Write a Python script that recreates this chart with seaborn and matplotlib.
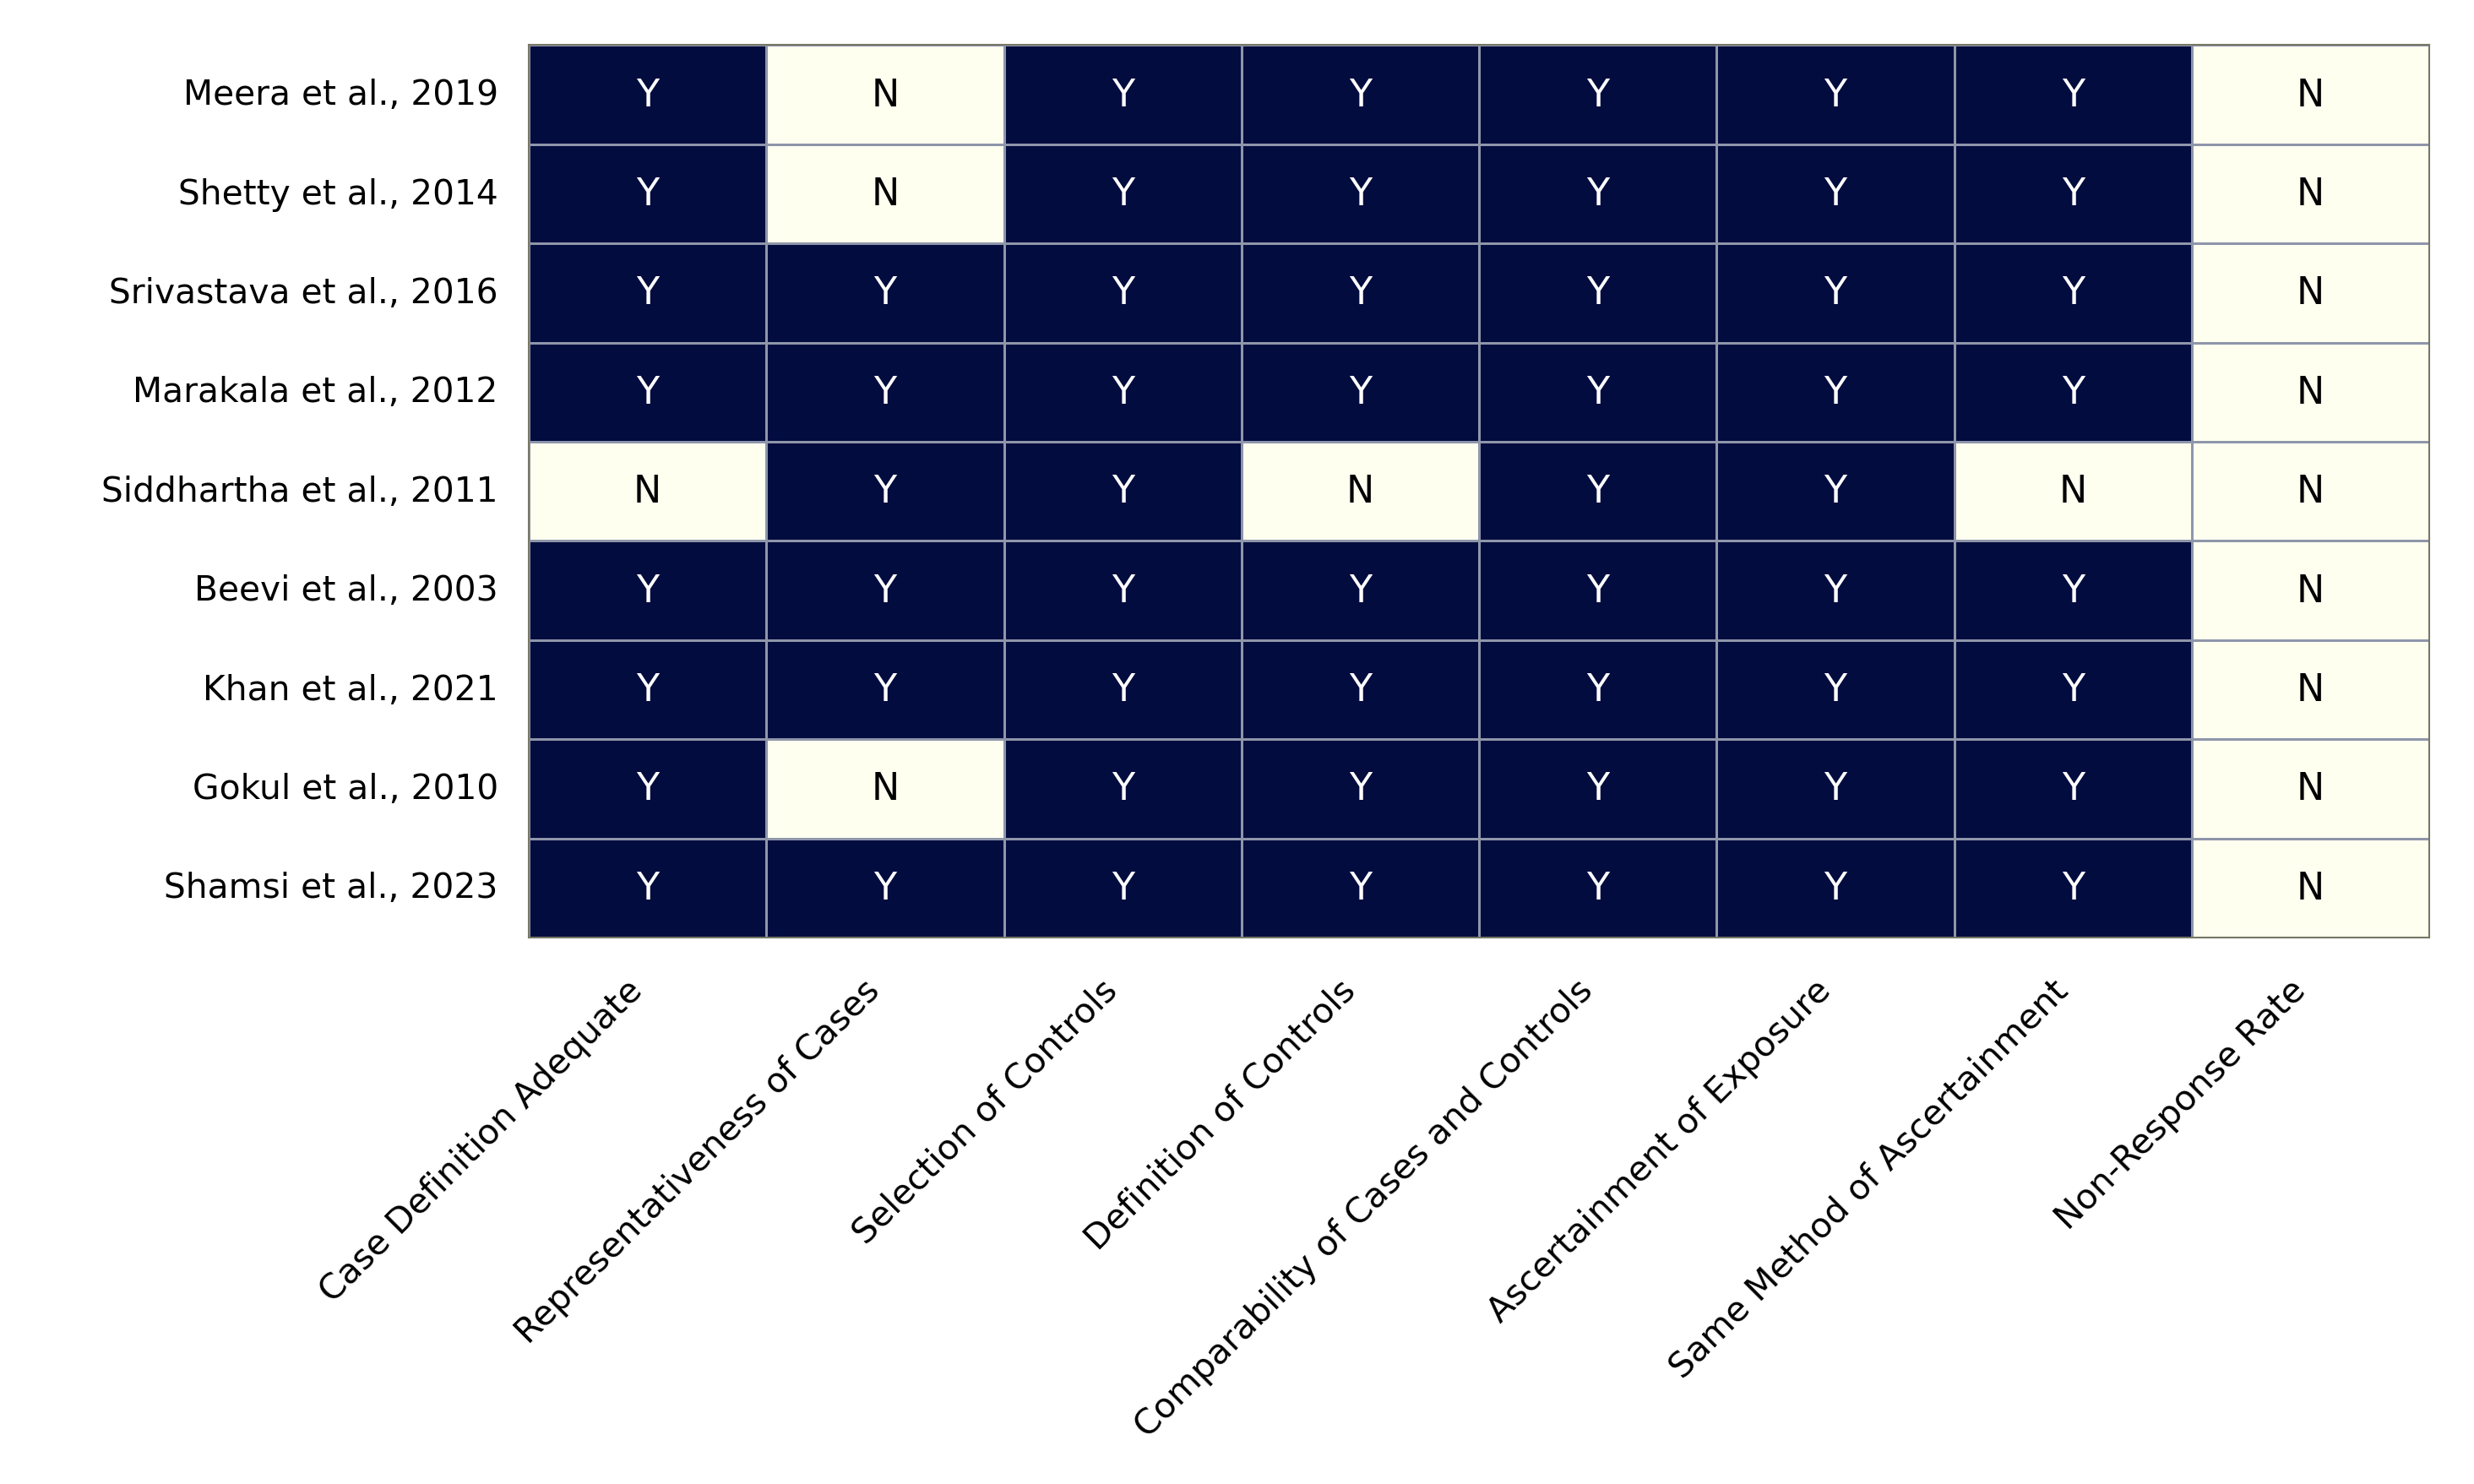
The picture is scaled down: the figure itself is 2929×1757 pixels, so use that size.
import numpy as np
import pandas as pd
import matplotlib
matplotlib.use("Agg")
import matplotlib.pyplot as plt
import matplotlib.transforms as mtransforms
import seaborn as sns
from matplotlib.colors import ListedColormap

studies = ["Meera et al., 2019", "Shetty et al., 2014", "Srivastava et al., 2016",
           "Marakala et al., 2012", "Siddhartha et al., 2011", "Beevi et al., 2003",
           "Khan et al., 2021", "Gokul et al., 2010", "Shamsi et al., 2023"]
criteria = ["Case Definition Adequate", "Representativeness of Cases", "Selection of Controls",
            "Definition of Controls", "Comparability of Cases and Controls",
            "Ascertainment of Exposure", "Same Method of Ascertainment", "Non-Response Rate"]
ratings = [
    ["Y", "N", "Y", "Y", "Y", "Y", "Y", "N"],
    ["Y", "N", "Y", "Y", "Y", "Y", "Y", "N"],
    ["Y", "Y", "Y", "Y", "Y", "Y", "Y", "N"],
    ["Y", "Y", "Y", "Y", "Y", "Y", "Y", "N"],
    ["N", "Y", "Y", "N", "Y", "Y", "N", "N"],
    ["Y", "Y", "Y", "Y", "Y", "Y", "Y", "N"],
    ["Y", "Y", "Y", "Y", "Y", "Y", "Y", "N"],
    ["Y", "N", "Y", "Y", "Y", "Y", "Y", "N"],
    ["Y", "Y", "Y", "Y", "Y", "Y", "Y", "N"],
]

labels = np.array(ratings)
values = pd.DataFrame((labels == "Y").astype(int), index=studies, columns=criteria)

sns.set_theme(style="white")
plt.rcParams['font.family'] = ['DejaVu Sans']
plt.rcParams['text.color'] = 'black'
plt.rcParams['xtick.color'] = 'black'
plt.rcParams['ytick.color'] = 'black'

fig = plt.figure(figsize=(29.29, 17.58), dpi=100)
ax = fig.add_axes([0.2137, 0.368, 0.7683, 0.601])
cmap = ListedColormap(["#fffff0", "#030c3f"])
sns.heatmap(values, annot=labels, fmt="", cmap=cmap, vmin=0, vmax=1, cbar=False,
            linewidths=2, linecolor="#8e96aa", ax=ax,
            annot_kws={"fontsize": 32})
for t in ax.texts:
    t.set_color("white" if t.get_text() == "Y" else "black")
ax.set_xlabel("")
ax.set_ylabel("")
ax.tick_params(axis="y", length=0, pad=26, labelcolor="black")
ax.tick_params(axis="x", length=0, pad=30, labelcolor="black")
ax.set_yticklabels(studies, rotation=0, fontsize=29.3)
ax.set_xticklabels(criteria, rotation=45, ha="right", rotation_mode="anchor", fontsize=29.5)
offset = mtransforms.ScaledTranslation(-0.26, 0, fig.dpi_scale_trans)
for lbl in ax.get_xticklabels():
    lbl.set_transform(lbl.get_transform() + offset)
for s in ax.spines.values():
    s.set_visible(True)
    s.set_color("#777766")
    s.set_linewidth(1.5)

fig.savefig("out.png", dpi=100)
